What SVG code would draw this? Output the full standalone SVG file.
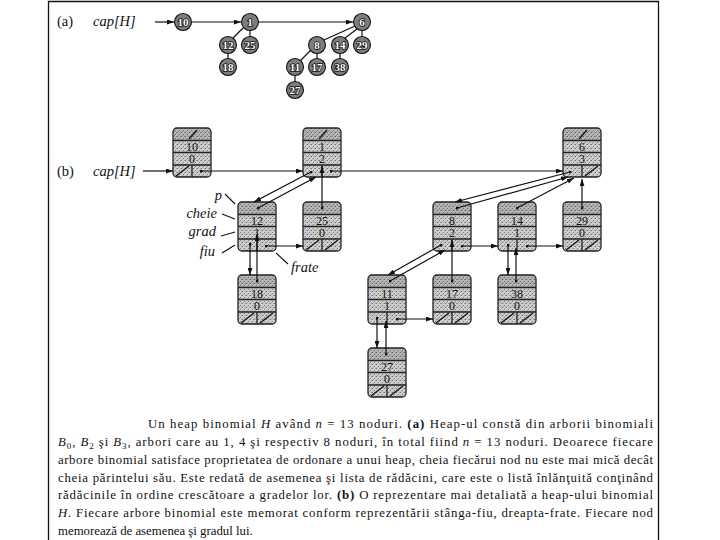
<svg xmlns="http://www.w3.org/2000/svg" xmlns:xlink="http://www.w3.org/1999/xlink" width="720" height="540" viewBox="0 0 720 540">
<style>
.lbl{font-family:"Liberation Serif","DejaVu Serif",serif;font-size:14.5px;fill:#111}
.it{font-style:italic}
.cn{font-family:"Liberation Serif","DejaVu Serif",serif;font-size:11px;font-weight:bold;fill:#fff;stroke:#111;stroke-width:1.6;paint-order:stroke;text-anchor:middle}
.circ{fill:#7e7e7e;stroke:#111;stroke-width:1.1}
.ed{stroke:#111;stroke-width:1.2;fill:none}
.ar{stroke:#111;stroke-width:1.2;fill:none;marker-end:url(#ah)}
.pt{stroke:#111;stroke-width:1.2;fill:none;marker-end:url(#ah);marker-start:url(#dot)}
.nt{font-family:"Liberation Serif","DejaVu Serif",serif;font-size:12px;fill:#111;text-anchor:middle}
.sl{stroke:#111;stroke-width:1.3;fill:none}
.tick{stroke:#111;stroke-width:1.1;fill:none}
.cap{font-family:"Liberation Serif","DejaVu Serif",serif;font-size:12.8px;fill:#111}
.b{font-weight:bold}
</style>
<defs>
<marker id="ah" viewBox="0 0 10 7" refX="10" refY="3.5" markerWidth="7" markerHeight="5" orient="auto" markerUnits="userSpaceOnUse"><path d="M0,0 L10,3.5 L0,7 z" fill="#111"/></marker>
<marker id="dot" viewBox="0 0 4 4" refX="2" refY="2" markerWidth="3" markerHeight="3" markerUnits="userSpaceOnUse"><circle cx="2" cy="2" r="2" fill="#111"/></marker>
<pattern id="stip" width="4" height="4" patternUnits="userSpaceOnUse"><rect width="4" height="4" fill="#cdcdcd"/><rect x="0" y="0" width="1" height="1" fill="#707070"/><rect x="2" y="2" width="1" height="1" fill="#808080"/><rect x="3" y="0" width="1" height="1" fill="#a0a0a0"/><rect x="1" y="3" width="1" height="1" fill="#a8a8a8"/></pattern>
<g id="box">
<rect x="0" y="0" width="38" height="49" rx="4" fill="url(#stip)"/>
<rect x="0.6" y="0.6" width="36.8" height="12" rx="3.4" fill="#000" fill-opacity="0.12"/>
<rect x="0" y="0" width="38" height="49" rx="4" fill="none" stroke="#222" stroke-width="1.3"/>
<path d="M0,12.5H38M0,24.5H38M0,37H38M19,37V49" stroke="#222" stroke-width="1.3" fill="none"/>
</g>
<path id="sT" d="M16,11 L24,2"/>
<path id="sL" d="M3,48 L16,38"/>
<path id="sR" d="M22,48 L35,38"/>
</defs>
<rect width="720" height="540" fill="#fff"/>
<path d="M48.5,560 V1.5 H658.5 V560" stroke="#111" stroke-width="1.3" fill="none"/>

<!-- part (a) -->
<text class="lbl" x="57" y="26">(a)</text>
<text class="lbl it" x="93" y="26">cap[H]</text>
<g id="a-connectors">
<path class="ar" d="M155,22 H174"/>
<path class="ar" d="M191.5,22 H241"/>
<path class="ar" d="M258.5,22 H353"/>
<path class="ed" d="M243,28 L233,38"/>
<path class="ed" d="M250,30 V36"/>
<path class="ed" d="M228,53 V59"/>
<path class="ed" d="M355,26 L324,40"/>
<path class="ed" d="M357,29 L345,38"/>
<path class="ed" d="M362,30 V36"/>
<path class="ed" d="M311,50 L300,61"/>
<path class="ed" d="M317,53 V59"/>
<path class="ed" d="M340,53 V59"/>
<path class="ed" d="M295,76 V82"/>
</g>
<g id="a10"><circle class="circ" cx="183" cy="22" r="8.5"/><text class="cn" x="183" y="26">10</text></g>
<g id="a1"><circle class="circ" cx="250" cy="22" r="8.5"/><text class="cn" x="250" y="26">1</text></g>
<g id="a6"><circle class="circ" cx="362" cy="22" r="8.5"/><text class="cn" x="362" y="26">6</text></g>
<g id="a12"><circle class="circ" cx="228" cy="45" r="8.5"/><text class="cn" x="228" y="49">12</text></g>
<g id="a25"><circle class="circ" cx="250" cy="45" r="8.5"/><text class="cn" x="250" y="49">25</text></g>
<g id="a18"><circle class="circ" cx="228" cy="67" r="8.5"/><text class="cn" x="228" y="71">18</text></g>
<g id="a8"><circle class="circ" cx="317" cy="45" r="8.5"/><text class="cn" x="317" y="49">8</text></g>
<g id="a14"><circle class="circ" cx="340" cy="45" r="8.5"/><text class="cn" x="340" y="49">14</text></g>
<g id="a29"><circle class="circ" cx="362" cy="45" r="8.5"/><text class="cn" x="362" y="49">29</text></g>
<g id="a11"><circle class="circ" cx="295" cy="67" r="8.5"/><text class="cn" x="295" y="71">11</text></g>
<g id="a17"><circle class="circ" cx="317" cy="67" r="8.5"/><text class="cn" x="317" y="71">17</text></g>
<g id="a38"><circle class="circ" cx="340" cy="67" r="8.5"/><text class="cn" x="340" y="71">38</text></g>
<g id="a27"><circle class="circ" cx="295" cy="90" r="8.5"/><text class="cn" x="295" y="94">27</text></g>

<!-- part (b) -->
<text class="lbl" x="57" y="176">(b)</text>
<text class="lbl it" x="93" y="176">cap[H]</text>

<g id="b10" transform="translate(173,128)"><use xlink:href="#box"/><use xlink:href="#sT" class="sl"/><use xlink:href="#sL" class="sl"/><text class="nt" x="19" y="22.5">10</text><text class="nt" x="19" y="35">0</text></g>
<g id="b1" transform="translate(303,128)"><use xlink:href="#box"/><use xlink:href="#sT" class="sl"/><text class="nt" x="19" y="22.5">1</text><text class="nt" x="19" y="35">2</text></g>
<g id="b6" transform="translate(563,128)"><use xlink:href="#box"/><use xlink:href="#sT" class="sl"/><use xlink:href="#sR" class="sl"/><text class="nt" x="19" y="22.5">6</text><text class="nt" x="19" y="35">3</text></g>
<g id="b12" transform="translate(238,202)"><use xlink:href="#box"/><text class="nt" x="19" y="22.5">12</text><text class="nt" x="19" y="35">1</text></g>
<g id="b25" transform="translate(303,202)"><use xlink:href="#box"/><use xlink:href="#sL" class="sl"/><use xlink:href="#sR" class="sl"/><text class="nt" x="19" y="22.5">25</text><text class="nt" x="19" y="35">0</text></g>
<g id="b8" transform="translate(433,202)"><use xlink:href="#box"/><text class="nt" x="19" y="22.5">8</text><text class="nt" x="19" y="35">2</text></g>
<g id="b14" transform="translate(498,202)"><use xlink:href="#box"/><text class="nt" x="19" y="22.5">14</text><text class="nt" x="19" y="35">1</text></g>
<g id="b29" transform="translate(563,202)"><use xlink:href="#box"/><use xlink:href="#sL" class="sl"/><use xlink:href="#sR" class="sl"/><text class="nt" x="19" y="22.5">29</text><text class="nt" x="19" y="35">0</text></g>
<g id="b18" transform="translate(238,275)"><use xlink:href="#box"/><use xlink:href="#sL" class="sl"/><use xlink:href="#sR" class="sl"/><text class="nt" x="19" y="22.5">18</text><text class="nt" x="19" y="35">0</text></g>
<g id="b11" transform="translate(368,275)"><use xlink:href="#box"/><text class="nt" x="19" y="22.5">11</text><text class="nt" x="19" y="35">1</text></g>
<g id="b17" transform="translate(433,275)"><use xlink:href="#box"/><use xlink:href="#sL" class="sl"/><use xlink:href="#sR" class="sl"/><text class="nt" x="19" y="22.5">17</text><text class="nt" x="19" y="35">0</text></g>
<g id="b38" transform="translate(498,275)"><use xlink:href="#box"/><use xlink:href="#sL" class="sl"/><use xlink:href="#sR" class="sl"/><text class="nt" x="19" y="22.5">38</text><text class="nt" x="19" y="35">0</text></g>
<g id="b27" transform="translate(368,348)"><use xlink:href="#box"/><use xlink:href="#sL" class="sl"/><use xlink:href="#sR" class="sl"/><text class="nt" x="19" y="22.5">27</text><text class="nt" x="19" y="35">0</text></g>

<g id="b-connectors">
<path class="ar" d="M143,171 H173"/>
<path class="pt" d="M201,171 H303"/>
<path class="pt" d="M331,171 H563"/>
<path class="pt" d="M311,172 L254,202"/>
<path class="pt" d="M258,208 L316,177"/>
<path class="pt" d="M322,208 V166"/>
<path class="pt" d="M266,246 H303"/>
<path class="pt" d="M250,244 V275"/>
<path class="pt" d="M257,281 V234"/>
<path class="pt" d="M570,172 L455,202"/>
<path class="pt" d="M457,208 L568,177"/>
<path class="pt" d="M517,208 L574,178"/>
<path class="pt" d="M582,208 V179"/>
<path class="pt" d="M462,246 H498"/>
<path class="pt" d="M527,246 H563"/>
<path class="pt" d="M441,245 L388,275"/>
<path class="pt" d="M390,281 L445,250"/>
<path class="pt" d="M452,281 V240"/>
<path class="pt" d="M508,245 V275"/>
<path class="pt" d="M516,281 V248"/>
<path class="pt" d="M397,319 H433"/>
<path class="pt" d="M377,318 V348"/>
<path class="pt" d="M386,354 V321"/>
</g>

<g id="field-labels">
<text class="lbl it" x="222" y="200" text-anchor="end">p</text>
<text class="lbl it" x="217" y="218" text-anchor="end">cheie</text>
<text class="lbl it" x="216" y="236" text-anchor="end">grad</text>
<text class="lbl it" x="215" y="256" text-anchor="end">fiu</text>
<text class="lbl it" x="291" y="272">frate</text>
<path class="tick" d="M225,194 L235,204 M222,214 L235,219 M221,236 L235,232 M222,253 L235,245 M276,253 L288,264"/>
</g>

<g id="caption">
<text class="cap" x="148" y="428" textLength="505" lengthAdjust="spacing">Un heap binomial <tspan class="it">H</tspan> având <tspan class="it">n</tspan> = 13 noduri. <tspan class="b">(a)</tspan> Heap-ul constă din arborii binomiali</text>
<text class="cap" x="58" y="446" textLength="595" lengthAdjust="spacing"><tspan class="it">B</tspan><tspan font-size="9" dy="3">0</tspan><tspan dy="-3">, </tspan><tspan class="it">B</tspan><tspan font-size="9" dy="3">2</tspan><tspan dy="-3"> şi </tspan><tspan class="it">B</tspan><tspan font-size="9" dy="3">3</tspan><tspan dy="-3">, arbori care au 1, 4 şi respectiv 8 noduri, în total fiind </tspan><tspan class="it">n</tspan> = 13 noduri. Deoarece fiecare</text>
<text class="cap" x="58" y="464" textLength="595" lengthAdjust="spacing">arbore binomial satisface proprietatea de ordonare a unui heap, cheia fiecărui nod nu este mai mică decât</text>
<text class="cap" x="58" y="482" textLength="595" lengthAdjust="spacing">cheia părintelui său. Este redată de asemenea şi lista de rădăcini, care este o listă înlănţuită conţinând</text>
<text class="cap" x="58" y="499" textLength="595" lengthAdjust="spacing">rădăcinile în ordine crescătoare a gradelor lor. <tspan class="b">(b)</tspan> O reprezentare mai detaliată a heap-ului binomial</text>
<text class="cap" x="58" y="517" textLength="595" lengthAdjust="spacing"><tspan class="it">H</tspan>. Fiecare arbore binomial este memorat conform reprezentării stânga-fiu, dreapta-frate. Fiecare nod</text>
<text class="cap" x="58" y="535">memorează de asemenea şi gradul lui.</text>
</g>
</svg>
